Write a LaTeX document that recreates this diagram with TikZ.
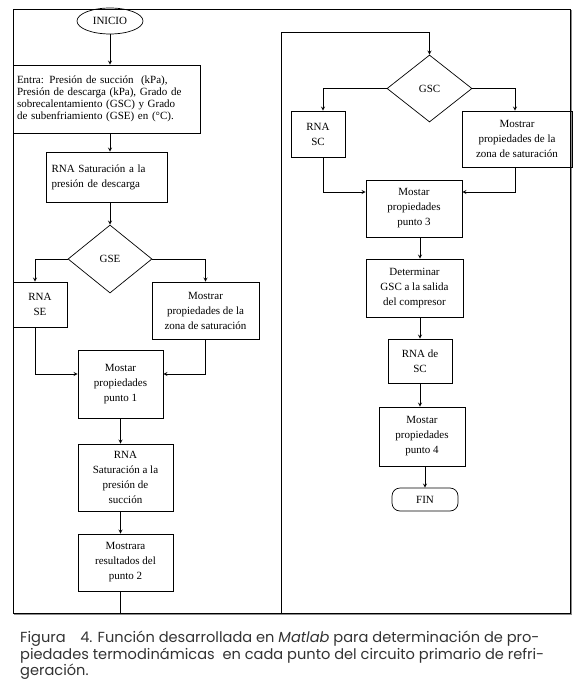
\documentclass[tikz,border=0pt]{standalone}
\usepackage{fontspec}
\setmainfont{Liberation Serif}
\newfontfamily\capfont{Poppins}
\usetikzlibrary{shapes.geometric}
\begin{document}
\begin{tikzpicture}[x=1pt, y=-1pt, >=stealth,
  flowbox/.style={draw, rectangle, line width=0.7pt, inner sep=0pt, align=center, font=\fontsize{11}{15}\selectfont},
  decision/.style={draw, diamond, line width=0.7pt, inner sep=0pt, font=\fontsize{11}{13}\selectfont},
  link/.style={->, line width=0.8pt}]
\useasboundingbox (0,0) rectangle (575,695);
% marco de la figura
\draw[line width=0.9pt] (13,9) rectangle (570,613);
\draw[black!45, line width=1pt] (571.5,10) -- (571.5,614.5) -- (14,614.5);
\coordinate (mid) at (281,613);
\coordinate (midtop) at (281,32);
% columna izquierda
\node[draw, ellipse, line width=0.7pt, inner sep=0pt, minimum width=66pt, minimum height=26pt, font=\fontsize{11}{13}\selectfont] (inicio) at (110,21) {INICIO};
\node[flowbox, minimum width=187pt, minimum height=68pt, text width=179pt, align=left, font=\fontsize{11}{12}\selectfont] (entra) at (106.5,99) {\makebox[\linewidth][s]{Entra: Presión de succión\ \ (kPa),}\\\makebox[\linewidth][s]{Presión de descarga (kPa), Grado de}\\\makebox[\linewidth][s]{sobrecalentamiento (GSC) y Grado}\\\makebox[\linewidth][s]{de subenfriamiento (GSE) en (°C).}};
\node[flowbox, minimum width=121pt, minimum height=50pt, text width=110pt, align=left] (satdes) at (106.5,177) {\makebox[\linewidth][s]{RNA Saturación a la}\\presión de descarga};
\node[decision, minimum width=84pt, minimum height=68pt] (gse) at (110,259) {GSE};
\node[flowbox, minimum width=54pt, minimum height=45pt] (rnase) at (40,304.5) {RNA\\SE};
\node[flowbox, minimum width=107pt, minimum height=57pt] (zonaI) at (205.5,310.5) {Mostrar\\propiedades de la\\zona de saturación};
\node[flowbox, minimum width=85pt, minimum height=68pt] (p1) at (120.5,384) {Mostar\\propiedades\\punto 1};
\node[flowbox, minimum width=95pt, minimum height=67pt] (satsuc) at (125.5,477.5) {RNA\\Saturación a la\\presión de\\succión};
\node[flowbox, minimum width=95pt, minimum height=57pt] (p2) at (125.5,562.5) {Mostrara\\resultados del\\punto 2};
% columna derecha
\node[decision, minimum width=85pt, minimum height=67pt] (gsc) at (429.5,88.5) {GSC};
\node[flowbox, minimum width=54pt, minimum height=46pt] (rnasc) at (318,134) {RNA\\SC};
\node[flowbox, minimum width=110pt, minimum height=56pt] (zonaD) at (517,139) {Mostrar\\propiedades de la\\zona de saturación};
\node[flowbox, minimum width=96pt, minimum height=57pt] (p3) at (414,208.5) {Mostar\\propiedades\\punto 3};
\node[flowbox, minimum width=97pt, minimum height=58pt] (detgsc) at (414.5,288) {Determinar\\GSC a la salida\\del compresor};
\node[flowbox, minimum width=64pt, minimum height=44pt] (rnadesc) at (420,361) {RNA de\\SC};
\node[flowbox, minimum width=86pt, minimum height=59pt] (p4) at (422,436.5) {Mostar\\propiedades\\punto 4};
\node[draw, rectangle, rounded corners=8pt, line width=0.7pt, inner sep=0pt, minimum width=66pt, minimum height=23pt, font=\fontsize{11}{13}\selectfont] (fin) at (425,499.5) {FIN};
% conexiones
\draw[link] (inicio) -- (inicio |- entra.north);
\draw[link] (entra.south -| inicio) -- (inicio |- satdes.north);
\draw[link] (satdes.south -| inicio) -- (gse);
\draw[link] (gse.west) -| ([xshift=-5pt]rnase.north);
\draw[link] (gse.east) -| (zonaI.north);
\draw[link] ([xshift=-5pt]rnase.south) |- ([yshift=10pt]p1.west);
\draw[link] (zonaI.south) |- ([yshift=10pt]p1.east);
\draw[link] (p1) -- (p1 |- satsuc.north);
\draw[link] (satsuc.south -| p1) -- (p1 |- p2.north);
\draw[link] (p2.south -| p1) -- (p1 |- mid) -- (mid) -- (midtop) -| (gsc.north);
\draw[link] (gsc.west) -| ([xshift=5pt]rnasc.north);
\draw[link] (gsc.east) -| ([xshift=-2pt]zonaD.north);
\draw[link] ([xshift=5pt]rnasc.south) |- ([yshift=16.5pt]p3.west);
\draw[link] ([xshift=-2pt]zonaD.south) |- ([yshift=16.5pt]p3.east);
\draw[link] (p3.south -| rnadesc) -- (rnadesc |- detgsc.north);
\draw[link] (detgsc.south -| rnadesc) -- (rnadesc.north);
\draw[link] (rnadesc) -- (rnadesc |- p4.north);
\draw[link] (p4.south -| fin) -- (fin);
% pie de figura
\node[anchor=north west, inner sep=0pt, align=left, text=black!80, font=\capfont\fontsize{14.6}{16.5}\selectfont] (pie) at (20,631) {Figura\quad 4. Función desarrollada en \textit{Matlab} para determinación de pro-\\piedades termodinámicas\ \ en cada punto del circuito primario de refri-\\geración.};
\end{tikzpicture}
\end{document}
